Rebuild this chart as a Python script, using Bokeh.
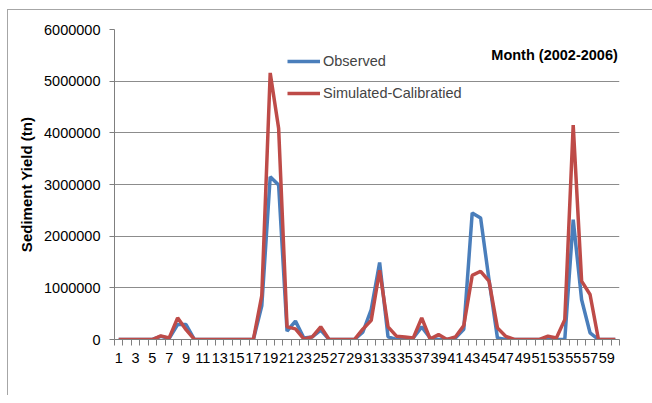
from bokeh.plotting import figure
from bokeh.models import (FixedTicker, NumeralTickFormatter, Label, Legend, LegendItem,
                          LinearAxis, ColumnDataSource)
from bokeh.embed import file_html
from bokeh.resources import INLINE

months = list(range(1, 61))
observed = [0, 0, 0, 0, 0, 60000, 20000, 290000, 290000, 0,
            0, 0, 0, 0, 0, 0, 0, 650000, 3150000, 2990000,
            160000, 355000, 30000, 50000, 180000, 0, 0, 0, 0, 140000,
            580000, 1490000, 50000, 0, 20000, 30000, 245000, 30000, 0, 0,
            30000, 200000, 2450000, 2350000, 1150000, 30000, 0, 0, 0, 0,
            0, 10000, 0, 0, 2320000, 770000, 130000, 0, 0, 0]
simulated = [0, 0, 0, 0, 0, 70000, 30000, 420000, 190000, 0,
             0, 0, 0, 0, 0, 0, 0, 850000, 5160000, 4090000,
             245000, 205000, 10000, 50000, 245000, 0, 0, 0, 0, 200000,
             370000, 1340000, 245000, 65000, 50000, 30000, 420000, 10000, 95000, 0,
             50000, 270000, 1240000, 1320000, 1130000, 225000, 60000, 0, 0, 0,
             0, 65000, 30000, 385000, 4150000, 1130000, 870000, 0, 0, 0]
x_tick_labels = list(range(1, 60, 2))
y_ticks = [0, 1000000, 2000000, 3000000, 4000000, 5000000, 6000000]

FONT = "Liberation Sans"
GRID = "#8c8c8c"
TICK = "#7f7f7f"
BORDER = "#a6a6a6"

src = ColumnDataSource(dict(m=months, obs=observed, sim=simulated))

p = figure(frame_width=505, frame_height=310, output_backend="svg", toolbar_location=None,
           x_range=(0.5, 60.5), y_range=(0, 6000000),
           min_border_left=114, min_border_right=33, min_border_top=29, min_border_bottom=56)
p.outline_line_color = None
p.background_fill_color = "white"
p.border_fill_alpha = 0
p.styles = {
    "background": (f"linear-gradient({BORDER},{BORDER}) 7px 9px / 1px 100% no-repeat, "
                   f"linear-gradient({BORDER},{BORDER}) 7px 9px / 100% 1px no-repeat, white"),
}

# x axis: tick marks between months (no labels drawn)
p.xaxis.ticker = FixedTicker(ticks=[m - 0.5 for m in months] + [months[-1] + 0.5])
p.xaxis.major_label_text_font_size = "1px"
p.xaxis.major_label_text_color = None
p.xaxis.major_label_standoff = 0
p.xaxis.major_tick_line_color = TICK
p.xaxis.major_tick_out = 6
p.xaxis.major_tick_in = 0
p.xaxis.minor_tick_line_color = None
p.xaxis.axis_line_color = TICK
p.xgrid.visible = False

# x axis: month labels
lab_axis = LinearAxis(ticker=FixedTicker(ticks=x_tick_labels), axis_line_color=None,
                      major_tick_line_color=None, minor_tick_line_color=None,
                      major_tick_out=0, major_tick_in=0,
                      major_label_text_font=FONT, major_label_text_font_size="14.5px",
                      major_label_text_color="#000000", major_label_standoff=7)
p.add_layout(lab_axis, "below")

# y axis
p.yaxis.ticker = FixedTicker(ticks=y_ticks)
p.yaxis.formatter = NumeralTickFormatter(format="0")
p.yaxis.minor_tick_line_color = None
p.yaxis.major_tick_line_color = TICK
p.yaxis.major_tick_out = 5
p.yaxis.major_tick_in = 0
p.yaxis.axis_line_color = TICK
p.yaxis.major_label_text_font = FONT
p.yaxis.major_label_text_font_size = "14.5px"
p.yaxis.major_label_text_color = "#000000"
p.yaxis.major_label_standoff = 9
p.yaxis.axis_label = "Sediment Yield (tn)"
p.yaxis.axis_label_text_font = FONT
p.yaxis.axis_label_text_font_style = "bold"
p.yaxis.axis_label_text_font_size = "15px"
p.yaxis.axis_label_text_color = "#000000"
p.yaxis.axis_label_standoff = 6
p.ygrid.grid_line_color = GRID
p.ygrid.ticker = FixedTicker(ticks=y_ticks)

r_obs = p.line("m", "obs", source=src, line_color="#4A7EBB", line_width=3.5)
r_sim = p.line("m", "sim", source=src, line_color="#BE4B48", line_width=3.5)

legend = Legend(items=[LegendItem(label="Observed", renderers=[r_obs]),
                       LegendItem(label="Simulated-Calibratied", renderers=[r_sim])],
                location=(173, 236), padding=0, margin=0, glyph_width=33, glyph_height=20,
                spacing=12, label_standoff=3, background_fill_alpha=0, border_line_color=None,
                label_text_font=FONT, label_text_font_size="14.5px")
p.add_layout(legend)

p.add_layout(Label(x=60.3, y=5500000, text="Month (2002-2006)", text_align="right",
                   text_baseline="middle", text_font=FONT, text_font_style="bold",
                   text_font_size="14.5px", text_color="#000000"))

open("out.html", "w").write(file_html(p, INLINE))
